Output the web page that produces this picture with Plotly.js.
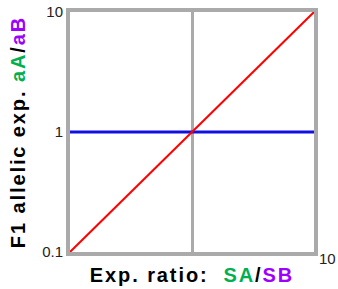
<!DOCTYPE html>
<html><head><meta charset="utf-8">
<script src="https://cdn.plot.ly/plotly-3.0.1.min.js"></script>
<style>html,body{margin:0;padding:0;background:#fff}#c{width:338px;height:289px}</style>
</head><body><div id="c"></div>
<script>
var diagX = [0.1, 10];
var diagY = [0.1, 10];
var flatX = [0.1, 10];
var flatY = [1, 1];
var yTicks = [0.1, 1, 10];
var yTickText = ['0.1', '1', '10'];
var xGrid = [1];

var LS = 'letter-spacing:1.9px;';
var traces = [
  {x: flatX, y: flatY, mode: 'lines', line: {color: '#1010e0', width: 3}, hoverinfo: 'skip'},
  {x: diagX, y: diagY, mode: 'lines', line: {color: '#ff0000', width: 2}, hoverinfo: 'skip'}
];
var layout = {
  width: 338, height: 289,
  margin: {l: 70, r: 24, t: 12, b: 37},
  paper_bgcolor: '#fff', plot_bgcolor: '#fff',
  showlegend: false,
  font: {family: 'Liberation Sans, Arial, sans-serif', color: '#222'},
  xaxis: {
    type: 'log', range: [-1, 1],
    tickvals: xGrid, showticklabels: false, ticks: '',
    showgrid: true, gridcolor: '#aaaaaa', gridwidth: 3,
    showline: true, mirror: true, linecolor: '#aaaaaa', linewidth: 4,
    zeroline: false,
    title: {text: '<b><span style="' + LS + '">Exp. ratio:  </span><span style="' + LS + 'color:#00b050">SA</span><span style="' + LS + '">/</span><span style="' + LS + 'color:#9d00ff">SB</span></b>',
            font: {size: 20, color: '#000'}, standoff: 14}
  },
  yaxis: {
    type: 'log', range: [-1, 1],
    tickvals: yTicks, ticktext: yTickText, ticks: '',
    tickfont: {size: 15, color: '#222'},
    showgrid: false,
    showline: true, mirror: true, linecolor: '#aaaaaa', linewidth: 4,
    zeroline: false,
    title: {text: '<b><span style="' + LS + '">F1 allelic exp. </span><span style="' + LS + 'color:#00b050">aA</span><span style="' + LS + '">/</span><span style="' + LS + 'color:#9d00ff">aB</span></b>',
            font: {size: 20, color: '#000'}, standoff: 12}
  },
  annotations: [
    {x: 1, y: 0, xref: 'paper', yref: 'paper', text: '10', showarrow: false,
     xanchor: 'left', yanchor: 'top', xshift: 3, yshift: 4, font: {size: 15, color: '#222'}}
  ]
};
Plotly.newPlot('c', traces, layout, {staticPlot: true, displayModeBar: false});
</script></body></html>
